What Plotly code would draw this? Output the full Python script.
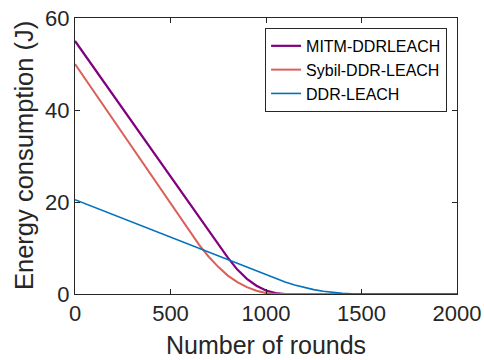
import plotly.graph_objects as go

mitm_x = [0, 600, 650, 700, 750, 800, 850, 900, 950, 1000, 1050, 1100, 2000]
mitm_y = [55.0, 19.6, 16.6, 13.7, 10.8, 7.9, 5.3, 3.3, 1.8, 0.75, 0.2, 0, 0]

sybil_x = [0, 550, 600, 650, 700, 750, 800, 850, 900, 950, 1000, 1050, 2000]
sybil_y = [50.0, 16.6, 13.6, 10.7, 8.1, 5.9, 4.0, 2.6, 1.5, 0.7, 0.2, 0, 0]

ddr_x = [0, 900, 950, 1000, 1050, 1100, 1150, 1200, 1250, 1300, 1350, 1400, 1450, 1500, 2000]
ddr_y = [20.5, 5.8, 4.95, 4.1, 3.3, 2.6, 1.95, 1.4, 0.95, 0.6, 0.32, 0.14, 0.04, 0, 0]

names = ["MITM-DDRLEACH", "Sybil-DDR-LEACH", "DDR-LEACH"]
colors = ["#800080", "#DC5F5A", "#0072BD"]
widths = [2.2, 2.0, 1.6]
series = [(mitm_x, mitm_y), (sybil_x, sybil_y), (ddr_x, ddr_y)]

x_ticks = [0, 500, 1000, 1500, 2000]
y_ticks = [0, 20, 40, 60]

fig = go.Figure()
for name, (xs, ys), c, w in zip(names, series, colors, widths):
    fig.add_trace(go.Scatter(x=xs, y=ys, mode="lines", name=name,
                             line=dict(color=c, width=w)))

axis_common = dict(showline=True, linecolor="#262626", linewidth=1, mirror="ticks",
                   ticks="inside", ticklen=5, tickcolor="#262626", showgrid=False,
                   zeroline=False, automargin=False,
                   tickfont=dict(size=22, color="#262626"))

fig.update_layout(
    width=484, height=360,
    margin=dict(l=75, r=27, t=18, b=66),
    paper_bgcolor="white", plot_bgcolor="white",
    font=dict(family="Liberation Sans, Arial, sans-serif", color="#262626"),
    xaxis=dict(range=[0, 2000], tickvals=x_ticks, **axis_common),
    yaxis=dict(range=[0, 60], tickvals=y_ticks, **axis_common),
    legend=dict(x=0.974, xanchor="right", y=0.964, yanchor="top",
                bgcolor="white", bordercolor="#262626", borderwidth=1,
                font=dict(size=16, color="black"), tracegroupgap=0,
                itemwidth=30),
    showlegend=True,
    annotations=[
        dict(text="Number of rounds", xref="paper", yref="paper", x=0.5, y=-0.183,
             xanchor="center", yanchor="middle", showarrow=False,
             font=dict(size=25, color="#262626")),
        dict(text="Energy consumption (J)", xref="paper", yref="paper", x=-0.1335, y=0.5,
             xanchor="center", yanchor="middle", showarrow=False, textangle=-90,
             font=dict(size=25.5, color="#262626")),
    ],
)

fig.write_html("out.html", config={"displayModeBar": False},
               post_script="document.body.style.margin='0';document.body.style.overflow='hidden';")
